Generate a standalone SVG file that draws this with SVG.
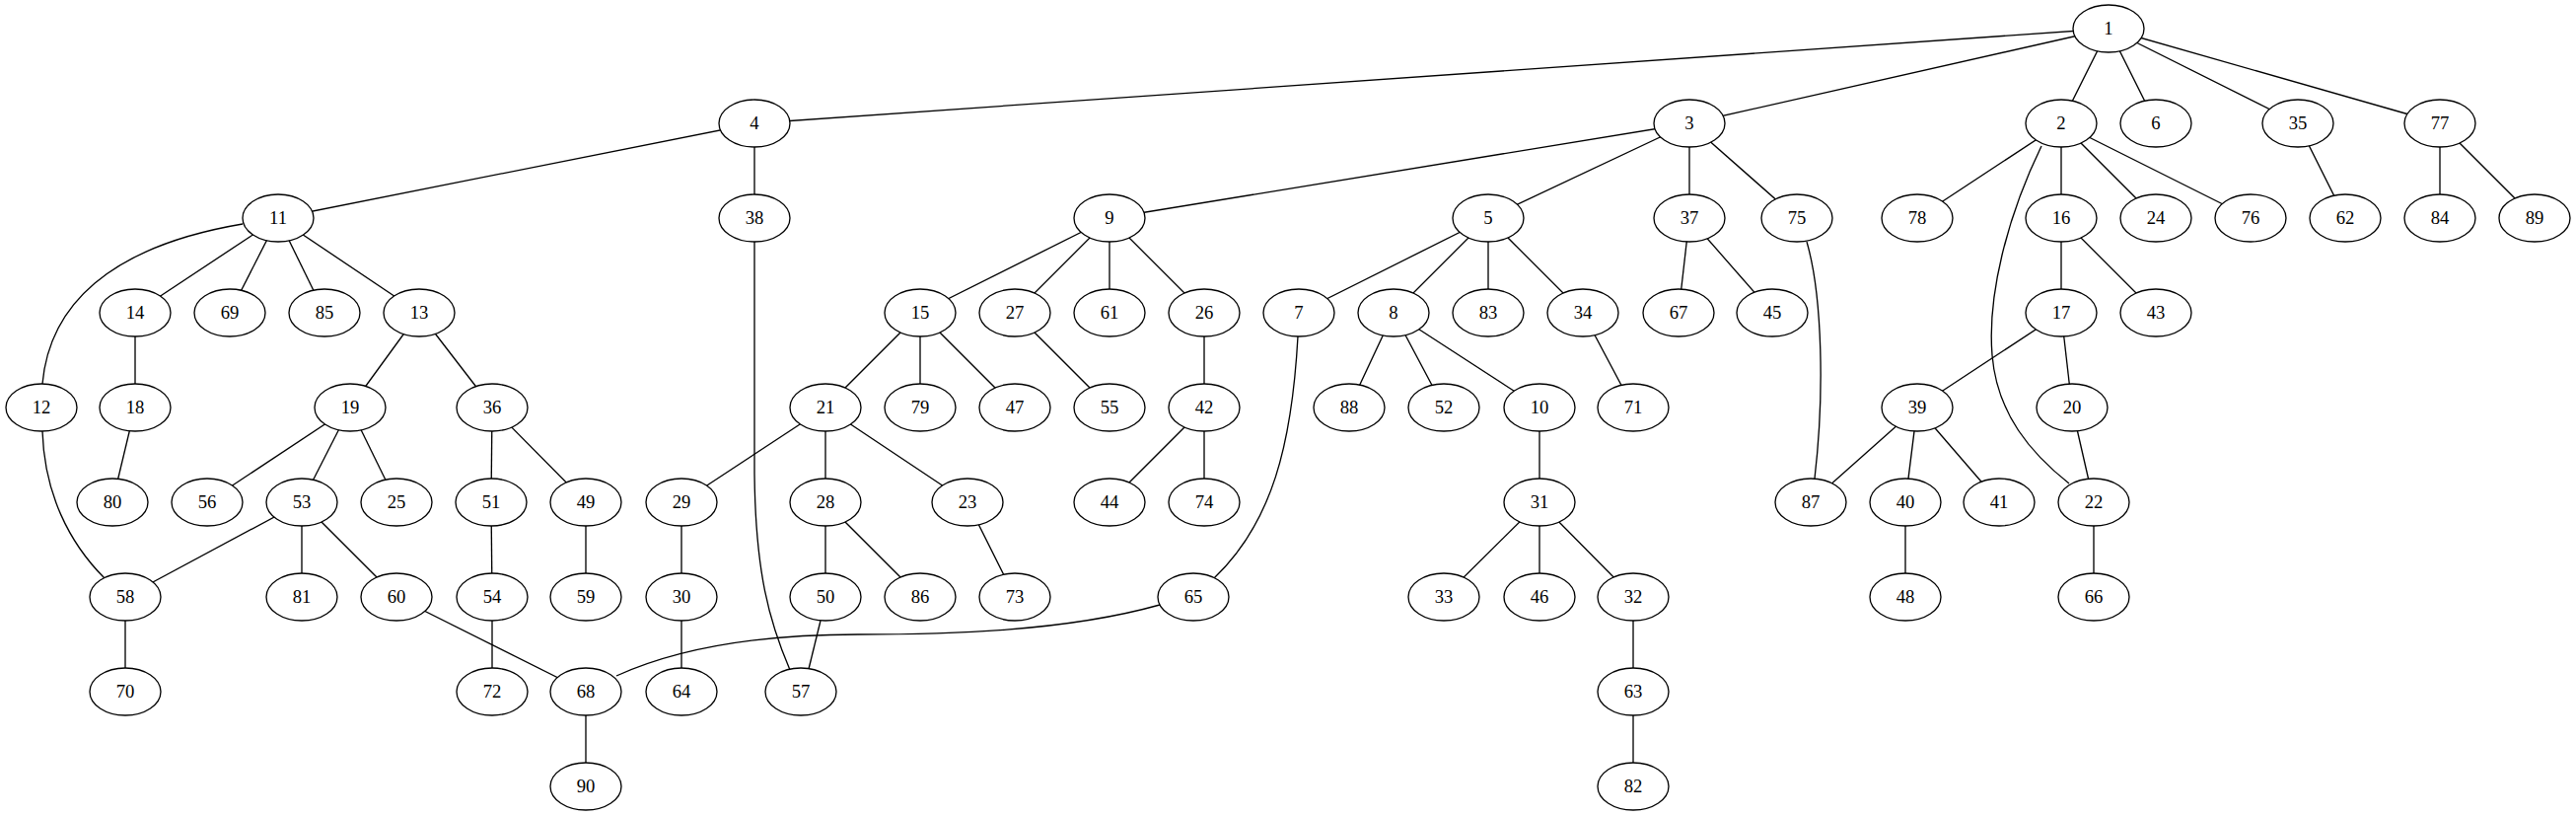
<svg xmlns="http://www.w3.org/2000/svg" width="2612" height="827" viewBox="0 0 2612 827">
<style>
.node ellipse{fill:#fff;stroke:#000;stroke-width:1.33}
.node text{font-family:"Liberation Serif","Times New Roman",serif;font-size:18.67px;text-anchor:middle;fill:#000}
#edges line,#edges path{stroke:#000;stroke-width:1.33;fill:none}
</style>
<rect x="0" y="0" width="2612" height="827" fill="#fff"/>
<g id="edges">
<line x1="2138" y1="29" x2="765" y2="125"/>
<line x1="2138" y1="29" x2="1713" y2="125"/>
<line x1="2138" y1="29" x2="2090" y2="125"/>
<line x1="2138" y1="29" x2="2186" y2="125"/>
<line x1="2138" y1="29" x2="2330" y2="125"/>
<line x1="2138" y1="29" x2="2474" y2="125"/>
<line x1="765" y1="125" x2="282" y2="221"/>
<line x1="765" y1="125" x2="765" y2="221"/>
<line x1="1713" y1="125" x2="1125" y2="221"/>
<line x1="1713" y1="125" x2="1509" y2="221"/>
<line x1="1713" y1="125" x2="1713" y2="221"/>
<line x1="1713" y1="125" x2="1822" y2="221"/>
<line x1="2090" y1="125" x2="1944" y2="221"/>
<line x1="2090" y1="125" x2="2090" y2="221"/>
<line x1="2090" y1="125" x2="2186" y2="221"/>
<line x1="2090" y1="125" x2="2282" y2="221"/>
<path d="M2070,148 C2035,220 2015,300 2020,360 C2025,420 2060,460 2098,490"/>
<line x1="2330" y1="125" x2="2378" y2="221"/>
<line x1="2474" y1="125" x2="2474" y2="221"/>
<line x1="2474" y1="125" x2="2570" y2="221"/>
<path d="M246,227 C110,250 50,310 43,389"/>
<line x1="282" y1="221" x2="137" y2="317"/>
<line x1="282" y1="221" x2="233" y2="317"/>
<line x1="282" y1="221" x2="329" y2="317"/>
<line x1="282" y1="221" x2="425" y2="317"/>
<path d="M765,245 L765,480 C766,580 780,630 801,679"/>
<line x1="1125" y1="221" x2="933" y2="317"/>
<line x1="1125" y1="221" x2="1029" y2="317"/>
<line x1="1125" y1="221" x2="1125" y2="317"/>
<line x1="1125" y1="221" x2="1221" y2="317"/>
<line x1="1509" y1="221" x2="1317" y2="317"/>
<line x1="1509" y1="221" x2="1413" y2="317"/>
<line x1="1509" y1="221" x2="1509" y2="317"/>
<line x1="1509" y1="221" x2="1605" y2="317"/>
<line x1="1713" y1="221" x2="1702" y2="317"/>
<line x1="1713" y1="221" x2="1797" y2="317"/>
<path d="M1832,245 C1848,300 1850,400 1840,485"/>
<line x1="2090" y1="221" x2="2090" y2="317"/>
<line x1="2090" y1="221" x2="2186" y2="317"/>
<line x1="137" y1="317" x2="137" y2="413"/>
<line x1="425" y1="317" x2="355" y2="413"/>
<line x1="425" y1="317" x2="499" y2="413"/>
<line x1="933" y1="317" x2="837" y2="413"/>
<line x1="933" y1="317" x2="933" y2="413"/>
<line x1="933" y1="317" x2="1029" y2="413"/>
<line x1="1029" y1="317" x2="1125" y2="413"/>
<line x1="1221" y1="317" x2="1221" y2="413"/>
<path d="M1316,341 C1310,450 1290,530 1231,586"/>
<line x1="1413" y1="317" x2="1368" y2="413"/>
<line x1="1413" y1="317" x2="1464" y2="413"/>
<line x1="1413" y1="317" x2="1561" y2="413"/>
<line x1="1605" y1="317" x2="1656" y2="413"/>
<line x1="2090" y1="317" x2="1944" y2="413"/>
<line x1="2090" y1="317" x2="2101" y2="413"/>
<path d="M43,437 C45,500 70,550 106,586"/>
<line x1="137" y1="413" x2="114" y2="509"/>
<line x1="355" y1="413" x2="210" y2="509"/>
<line x1="355" y1="413" x2="306" y2="509"/>
<line x1="355" y1="413" x2="402" y2="509"/>
<line x1="499" y1="413" x2="498" y2="509"/>
<line x1="499" y1="413" x2="594" y2="509"/>
<line x1="837" y1="413" x2="691" y2="509"/>
<line x1="837" y1="413" x2="837" y2="509"/>
<line x1="837" y1="413" x2="981" y2="509"/>
<line x1="1221" y1="413" x2="1125" y2="509"/>
<line x1="1221" y1="413" x2="1221" y2="509"/>
<line x1="1561" y1="413" x2="1561" y2="509"/>
<line x1="1944" y1="413" x2="1836" y2="509"/>
<line x1="1944" y1="413" x2="1932" y2="509"/>
<line x1="1944" y1="413" x2="2027" y2="509"/>
<line x1="2101" y1="413" x2="2123" y2="509"/>
<line x1="306" y1="509" x2="127" y2="605"/>
<line x1="306" y1="509" x2="306" y2="605"/>
<line x1="306" y1="509" x2="402" y2="605"/>
<line x1="498" y1="509" x2="499" y2="605"/>
<line x1="594" y1="509" x2="594" y2="605"/>
<line x1="691" y1="509" x2="691" y2="605"/>
<line x1="837" y1="509" x2="837" y2="605"/>
<line x1="837" y1="509" x2="933" y2="605"/>
<line x1="981" y1="509" x2="1029" y2="605"/>
<line x1="1561" y1="509" x2="1464" y2="605"/>
<line x1="1561" y1="509" x2="1561" y2="605"/>
<line x1="1561" y1="509" x2="1656" y2="605"/>
<line x1="1932" y1="509" x2="1932" y2="605"/>
<line x1="2123" y1="509" x2="2123" y2="605"/>
<line x1="127" y1="605" x2="127" y2="701"/>
<line x1="402" y1="605" x2="594" y2="701"/>
<line x1="499" y1="605" x2="499" y2="701"/>
<line x1="691" y1="605" x2="691" y2="701"/>
<line x1="832" y1="629" x2="820" y2="678"/>
<path d="M1176,613 C1080,640 960,643 870,643 C760,643 680,660 625,685"/>
<line x1="1656" y1="605" x2="1656" y2="701"/>
<line x1="594" y1="701" x2="594" y2="797"/>
<line x1="1656" y1="701" x2="1656" y2="797"/>
</g>
<g id="n1" class="node"><ellipse cx="2138" cy="29" rx="36" ry="24"/><text x="2138" y="35">1</text></g>
<g id="n4" class="node"><ellipse cx="765" cy="125" rx="36" ry="24"/><text x="765" y="131">4</text></g>
<g id="n3" class="node"><ellipse cx="1713" cy="125" rx="36" ry="24"/><text x="1713" y="131">3</text></g>
<g id="n2" class="node"><ellipse cx="2090" cy="125" rx="36" ry="24"/><text x="2090" y="131">2</text></g>
<g id="n6" class="node"><ellipse cx="2186" cy="125" rx="36" ry="24"/><text x="2186" y="131">6</text></g>
<g id="n35" class="node"><ellipse cx="2330" cy="125" rx="36" ry="24"/><text x="2330" y="131">35</text></g>
<g id="n77" class="node"><ellipse cx="2474" cy="125" rx="36" ry="24"/><text x="2474" y="131">77</text></g>
<g id="n11" class="node"><ellipse cx="282" cy="221" rx="36" ry="24"/><text x="282" y="227">11</text></g>
<g id="n38" class="node"><ellipse cx="765" cy="221" rx="36" ry="24"/><text x="765" y="227">38</text></g>
<g id="n9" class="node"><ellipse cx="1125" cy="221" rx="36" ry="24"/><text x="1125" y="227">9</text></g>
<g id="n5" class="node"><ellipse cx="1509" cy="221" rx="36" ry="24"/><text x="1509" y="227">5</text></g>
<g id="n37" class="node"><ellipse cx="1713" cy="221" rx="36" ry="24"/><text x="1713" y="227">37</text></g>
<g id="n75" class="node"><ellipse cx="1822" cy="221" rx="36" ry="24"/><text x="1822" y="227">75</text></g>
<g id="n78" class="node"><ellipse cx="1944" cy="221" rx="36" ry="24"/><text x="1944" y="227">78</text></g>
<g id="n16" class="node"><ellipse cx="2090" cy="221" rx="36" ry="24"/><text x="2090" y="227">16</text></g>
<g id="n24" class="node"><ellipse cx="2186" cy="221" rx="36" ry="24"/><text x="2186" y="227">24</text></g>
<g id="n76" class="node"><ellipse cx="2282" cy="221" rx="36" ry="24"/><text x="2282" y="227">76</text></g>
<g id="n62" class="node"><ellipse cx="2378" cy="221" rx="36" ry="24"/><text x="2378" y="227">62</text></g>
<g id="n84" class="node"><ellipse cx="2474" cy="221" rx="36" ry="24"/><text x="2474" y="227">84</text></g>
<g id="n89" class="node"><ellipse cx="2570" cy="221" rx="36" ry="24"/><text x="2570" y="227">89</text></g>
<g id="n14" class="node"><ellipse cx="137" cy="317" rx="36" ry="24"/><text x="137" y="323">14</text></g>
<g id="n69" class="node"><ellipse cx="233" cy="317" rx="36" ry="24"/><text x="233" y="323">69</text></g>
<g id="n85" class="node"><ellipse cx="329" cy="317" rx="36" ry="24"/><text x="329" y="323">85</text></g>
<g id="n13" class="node"><ellipse cx="425" cy="317" rx="36" ry="24"/><text x="425" y="323">13</text></g>
<g id="n15" class="node"><ellipse cx="933" cy="317" rx="36" ry="24"/><text x="933" y="323">15</text></g>
<g id="n27" class="node"><ellipse cx="1029" cy="317" rx="36" ry="24"/><text x="1029" y="323">27</text></g>
<g id="n61" class="node"><ellipse cx="1125" cy="317" rx="36" ry="24"/><text x="1125" y="323">61</text></g>
<g id="n26" class="node"><ellipse cx="1221" cy="317" rx="36" ry="24"/><text x="1221" y="323">26</text></g>
<g id="n7" class="node"><ellipse cx="1317" cy="317" rx="36" ry="24"/><text x="1317" y="323">7</text></g>
<g id="n8" class="node"><ellipse cx="1413" cy="317" rx="36" ry="24"/><text x="1413" y="323">8</text></g>
<g id="n83" class="node"><ellipse cx="1509" cy="317" rx="36" ry="24"/><text x="1509" y="323">83</text></g>
<g id="n34" class="node"><ellipse cx="1605" cy="317" rx="36" ry="24"/><text x="1605" y="323">34</text></g>
<g id="n67" class="node"><ellipse cx="1702" cy="317" rx="36" ry="24"/><text x="1702" y="323">67</text></g>
<g id="n45" class="node"><ellipse cx="1797" cy="317" rx="36" ry="24"/><text x="1797" y="323">45</text></g>
<g id="n17" class="node"><ellipse cx="2090" cy="317" rx="36" ry="24"/><text x="2090" y="323">17</text></g>
<g id="n43" class="node"><ellipse cx="2186" cy="317" rx="36" ry="24"/><text x="2186" y="323">43</text></g>
<g id="n12" class="node"><ellipse cx="42" cy="413" rx="36" ry="24"/><text x="42" y="419">12</text></g>
<g id="n18" class="node"><ellipse cx="137" cy="413" rx="36" ry="24"/><text x="137" y="419">18</text></g>
<g id="n19" class="node"><ellipse cx="355" cy="413" rx="36" ry="24"/><text x="355" y="419">19</text></g>
<g id="n36" class="node"><ellipse cx="499" cy="413" rx="36" ry="24"/><text x="499" y="419">36</text></g>
<g id="n21" class="node"><ellipse cx="837" cy="413" rx="36" ry="24"/><text x="837" y="419">21</text></g>
<g id="n79" class="node"><ellipse cx="933" cy="413" rx="36" ry="24"/><text x="933" y="419">79</text></g>
<g id="n47" class="node"><ellipse cx="1029" cy="413" rx="36" ry="24"/><text x="1029" y="419">47</text></g>
<g id="n55" class="node"><ellipse cx="1125" cy="413" rx="36" ry="24"/><text x="1125" y="419">55</text></g>
<g id="n42" class="node"><ellipse cx="1221" cy="413" rx="36" ry="24"/><text x="1221" y="419">42</text></g>
<g id="n88" class="node"><ellipse cx="1368" cy="413" rx="36" ry="24"/><text x="1368" y="419">88</text></g>
<g id="n52" class="node"><ellipse cx="1464" cy="413" rx="36" ry="24"/><text x="1464" y="419">52</text></g>
<g id="n10" class="node"><ellipse cx="1561" cy="413" rx="36" ry="24"/><text x="1561" y="419">10</text></g>
<g id="n71" class="node"><ellipse cx="1656" cy="413" rx="36" ry="24"/><text x="1656" y="419">71</text></g>
<g id="n39" class="node"><ellipse cx="1944" cy="413" rx="36" ry="24"/><text x="1944" y="419">39</text></g>
<g id="n20" class="node"><ellipse cx="2101" cy="413" rx="36" ry="24"/><text x="2101" y="419">20</text></g>
<g id="n80" class="node"><ellipse cx="114" cy="509" rx="36" ry="24"/><text x="114" y="515">80</text></g>
<g id="n56" class="node"><ellipse cx="210" cy="509" rx="36" ry="24"/><text x="210" y="515">56</text></g>
<g id="n53" class="node"><ellipse cx="306" cy="509" rx="36" ry="24"/><text x="306" y="515">53</text></g>
<g id="n25" class="node"><ellipse cx="402" cy="509" rx="36" ry="24"/><text x="402" y="515">25</text></g>
<g id="n51" class="node"><ellipse cx="498" cy="509" rx="36" ry="24"/><text x="498" y="515">51</text></g>
<g id="n49" class="node"><ellipse cx="594" cy="509" rx="36" ry="24"/><text x="594" y="515">49</text></g>
<g id="n29" class="node"><ellipse cx="691" cy="509" rx="36" ry="24"/><text x="691" y="515">29</text></g>
<g id="n28" class="node"><ellipse cx="837" cy="509" rx="36" ry="24"/><text x="837" y="515">28</text></g>
<g id="n23" class="node"><ellipse cx="981" cy="509" rx="36" ry="24"/><text x="981" y="515">23</text></g>
<g id="n44" class="node"><ellipse cx="1125" cy="509" rx="36" ry="24"/><text x="1125" y="515">44</text></g>
<g id="n74" class="node"><ellipse cx="1221" cy="509" rx="36" ry="24"/><text x="1221" y="515">74</text></g>
<g id="n31" class="node"><ellipse cx="1561" cy="509" rx="36" ry="24"/><text x="1561" y="515">31</text></g>
<g id="n87" class="node"><ellipse cx="1836" cy="509" rx="36" ry="24"/><text x="1836" y="515">87</text></g>
<g id="n40" class="node"><ellipse cx="1932" cy="509" rx="36" ry="24"/><text x="1932" y="515">40</text></g>
<g id="n41" class="node"><ellipse cx="2027" cy="509" rx="36" ry="24"/><text x="2027" y="515">41</text></g>
<g id="n22" class="node"><ellipse cx="2123" cy="509" rx="36" ry="24"/><text x="2123" y="515">22</text></g>
<g id="n58" class="node"><ellipse cx="127" cy="605" rx="36" ry="24"/><text x="127" y="611">58</text></g>
<g id="n81" class="node"><ellipse cx="306" cy="605" rx="36" ry="24"/><text x="306" y="611">81</text></g>
<g id="n60" class="node"><ellipse cx="402" cy="605" rx="36" ry="24"/><text x="402" y="611">60</text></g>
<g id="n54" class="node"><ellipse cx="499" cy="605" rx="36" ry="24"/><text x="499" y="611">54</text></g>
<g id="n59" class="node"><ellipse cx="594" cy="605" rx="36" ry="24"/><text x="594" y="611">59</text></g>
<g id="n30" class="node"><ellipse cx="691" cy="605" rx="36" ry="24"/><text x="691" y="611">30</text></g>
<g id="n50" class="node"><ellipse cx="837" cy="605" rx="36" ry="24"/><text x="837" y="611">50</text></g>
<g id="n86" class="node"><ellipse cx="933" cy="605" rx="36" ry="24"/><text x="933" y="611">86</text></g>
<g id="n73" class="node"><ellipse cx="1029" cy="605" rx="36" ry="24"/><text x="1029" y="611">73</text></g>
<g id="n65" class="node"><ellipse cx="1210" cy="605" rx="36" ry="24"/><text x="1210" y="611">65</text></g>
<g id="n33" class="node"><ellipse cx="1464" cy="605" rx="36" ry="24"/><text x="1464" y="611">33</text></g>
<g id="n46" class="node"><ellipse cx="1561" cy="605" rx="36" ry="24"/><text x="1561" y="611">46</text></g>
<g id="n32" class="node"><ellipse cx="1656" cy="605" rx="36" ry="24"/><text x="1656" y="611">32</text></g>
<g id="n48" class="node"><ellipse cx="1932" cy="605" rx="36" ry="24"/><text x="1932" y="611">48</text></g>
<g id="n66" class="node"><ellipse cx="2123" cy="605" rx="36" ry="24"/><text x="2123" y="611">66</text></g>
<g id="n70" class="node"><ellipse cx="127" cy="701" rx="36" ry="24"/><text x="127" y="707">70</text></g>
<g id="n72" class="node"><ellipse cx="499" cy="701" rx="36" ry="24"/><text x="499" y="707">72</text></g>
<g id="n68" class="node"><ellipse cx="594" cy="701" rx="36" ry="24"/><text x="594" y="707">68</text></g>
<g id="n64" class="node"><ellipse cx="691" cy="701" rx="36" ry="24"/><text x="691" y="707">64</text></g>
<g id="n57" class="node"><ellipse cx="812" cy="701" rx="36" ry="24"/><text x="812" y="707">57</text></g>
<g id="n63" class="node"><ellipse cx="1656" cy="701" rx="36" ry="24"/><text x="1656" y="707">63</text></g>
<g id="n90" class="node"><ellipse cx="594" cy="797" rx="36" ry="24"/><text x="594" y="803">90</text></g>
<g id="n82" class="node"><ellipse cx="1656" cy="797" rx="36" ry="24"/><text x="1656" y="803">82</text></g>
</svg>
